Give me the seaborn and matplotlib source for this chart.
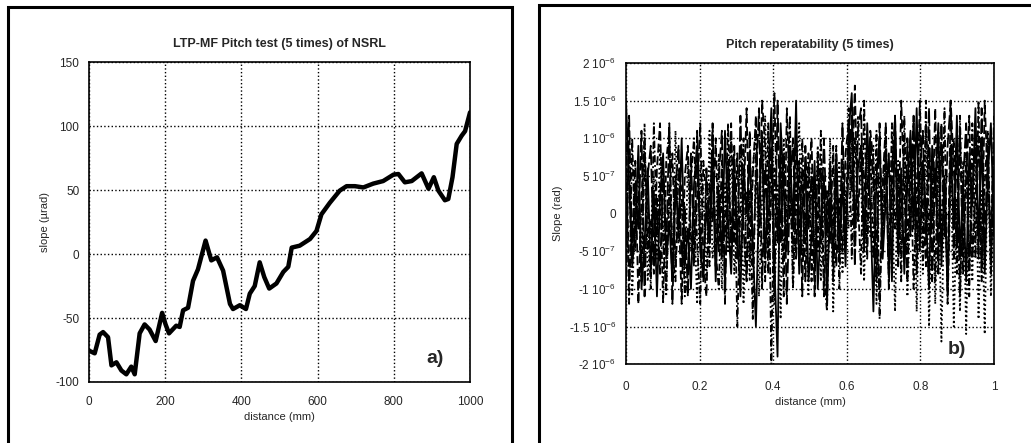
import numpy as np
import pandas as pd
import seaborn as sns
import matplotlib.pyplot as plt
from matplotlib.patches import Rectangle

# panel a) : LTP-MF pitch test, distance (mm) vs slope (urad)
dist_a = [0, 15, 28, 37, 50, 59, 72, 85, 98, 111, 120, 133, 146, 159, 175, 192,
          201, 210, 229, 238, 247, 260, 273, 286, 306, 321, 336, 352, 370, 378,
          396, 412, 422, 435, 448, 460, 473, 492, 510, 523, 532, 553, 580, 597,
          610, 632, 658, 676, 698, 720, 746, 772, 799, 812, 829, 847, 873, 891,
          905, 917, 934, 943, 954, 965, 978, 987, 1000]
slope_a = [-75.5, -77.6, -63, -61, -65, -87, -84.6, -91, -94, -88, -94, -62, -55,
           -59, -68, -46, -55, -62, -56, -57, -44, -42, -21, -12, 10.5, -5, -2.6,
           -13, -39, -43, -40, -43, -31, -25, -6.5, -18, -27, -23, -14, -10, 5,
           6.5, 11.7, 18, 31, 40, 49.5, 53, 53, 52, 55, 57, 62, 62.5, 56, 57, 63,
           51, 60, 49.5, 42, 43, 60, 86, 92.4, 96, 110.7]

# panel b) : pitch repeatability, 5 runs, slope in units of 1e-7 rad
run1 = [15, 4, -7, -2, 9, -10, -4, 6, -8, 3,
        -11, 2, 8, -6, -1, -9, 5, -3, 10, -7,
        -2, -10, 4, 9, -5, -8, 1, -4, 7, -9,
        3, -6, 11, -1, -8, 5, -3, -11, 6, 0,
        8, -4, -15, 2, 10, -6, 4, 14, -7, -19,
        12, 3, -5, 9, -2, 15, -8, 1, 6, -9,
        -3, 7, -10, -1, 5, -12, 2, -6, 8, -4,
        4, -7, 11, 16, -2, 6, 9, -4, 12, 1,
        -13, 5, 10, -6, 2, 8, -9, 13, -3, 6,
        -8, 4, 11, -2, 14, -5, 7, 0, -10, 9,
        3, 12, -7, 5, -11, 9, -2, 13, -6, 4,
        -9, 8, 1, 14, -4, 10, -8, 5, 12, -3]
run2 = [11, -9, -3, 7, -12, 2, 10, -5, -1, -8,
        6, 12, -4, -10, 3, 8, -7, 1, -12, 5,
        9, -3, -7, 2, 12, -6, -11, 4, -1, 10,
        -5, 7, -9, 2, 12, -4, 8, -7, 1, 14,
        -6, 5, 13, -3, 15, 9, -8, 3, 16, -4,
        7, -11, 14, 2, -5, 11, -3, 6, -9, 4,
        10, -8, 1, 6, -11, 3, -4, 9, -7, 2,
        -5, 8, 12, 3, 17, -1, 9, 5, -6, 11,
        7, -3, -11, 4, 12, -8, 2, 10, -5, 15,
        3, -9, 6, 12, -4, 15, 1, -7, 9, -2,
        14, -5, 8, 3, -9, 15, 6, -4, 11, -8,
        5, 13, -6, 2, 10, -7, 15, 4, -3, 11]
run3 = [-4, 8, -11, 1, 6, -7, 12, -9, -2, 5,
        -6, 9, -1, -11, 4, -8, 11, -4, 2, -10,
        7, -5, 1, -12, 6, 3, -9, 11, -6, -2,
        8, -10, 4, -5, 10, -8, -1, 9, -12, 3,
        -9, 6, 11, -11, 2, 13, -5, 8, -12, 4,
        -14, 10, -3, 7, -10, 5, 12, -6, 0, -11,
        6, -5, 9, -9, 3, -7, 10, -13, 1, 7,
        -8, 3, -2, 10, -6, 13, 4, -9, 8, -3,
        9, -12, 5, -4, 11, -9, 3, -13, 7, -6,
        10, -11, 2, 8, -13, 5, -8, 12, -15, 4,
        -12, 6, -17, 3, -10, 9, -15, 2, -13, 7,
        -16, 5, -9, 11, -14, 3, -16, 8, -11, 2]
run4 = [6, -12, 10, -5, 3, -9, 7, 1, -10, 12,
        -3, 4, -12, 7, 11, -5, -9, 6, 3, -11,
        -8, 5, 10, -4, -12, 7, 2, -7, 11, -5,
        -10, 4, -3, 12, -7, 6, -15, 1, 10, -8,
        3, -14, 8, -2, 11, -9, 12, -20, 6, -3,
        9, -6, 2, 13, -10, 4, -7, 10, -4, 8,
        -9, 4, -5, 11, -8, -13, 6, -2, 9, -10,
        7, -3, 14, -6, 10, 2, -8, 15, -4, 9,
        -6, 11, -14, 3, 9, -7, 12, -2, 6, -9,
        13, -5, 9, -10, 4, 12, -6, 15, -3, 7,
        -9, 11, -4, 14, -12, 5, 10, -8, 13, -5,
        8, -11, 12, -6, 15, -9, 4, 11, -7, 13]
run5 = [-9, 13, -6, 4, -2, 11, -11, 5, 9, -6,
        2, -8, 6, -5, 12, -12, 3, 9, -7, 1,
        -11, 8, -6, 11, -2, -9, 6, -3, 12, -7,
        5, 11, -12, 7, -4, 9, -6, 13, -2, -9,
        11, -7, 4, 14, -10, 6, -2, 9, -11, 15,
        -4, 8, -12, 3, 10, -6, 7, -11, 9, -2,
        5, -11, 8, -4, 10, -3, 7, -9, 4, -6,
        12, -4, 6, 13, -7, 11, 14, -5, 3, 10,
        4, -9, 12, -5, 8, -10, 6, 13, -7, 2,
        -6, 10, -3, 13, -8, 6, 11, -4, 14, -9,
        6, -8, 12, -3, 9, 15, -6, 10, -11, 4,
        12, -7, 3, 10, -6, 14, -4, 9, -8, 6]

yticks_b = [-20, -15, -10, -5, 0, 5, 10, 15, 20]
ylabels_b = ['-2 10$^{-6}$', '-1.5 10$^{-6}$', '-1 10$^{-6}$', '-5 10$^{-7}$', '0',
             '5 10$^{-7}$', '1 10$^{-6}$', '1.5 10$^{-6}$', '2 10$^{-6}$']

sns.set_style('white')
plt.rcParams['font.family'] = ['Liberation Sans', 'DejaVu Sans']
plt.rcParams['mathtext.default'] = 'regular'
plt.rcParams['axes.unicode_minus'] = False

fig = plt.figure(figsize=(10.31, 4.43), dpi=100)
ax1 = fig.add_axes([0.0863, 0.1377, 0.3696, 0.7223])
ax2 = fig.add_axes([0.6072, 0.178, 0.3569, 0.6798])

# panel frames of the scanned page
fig.patches.append(Rectangle((0.008, -0.1), 0.489, 1.084, transform=fig.transFigure,
                             fill=False, ec='black', lw=2.2))
fig.patches.append(Rectangle((0.523, -0.1), 0.6, 1.088, transform=fig.transFigure,
                             fill=False, ec='black', lw=2.2))

dfa = pd.DataFrame({'distance': dist_a, 'slope': slope_a})
sns.lineplot(data=dfa, x='distance', y='slope', ax=ax1, color='black', lw=3.2)
ax1.set_xlim(0, 1000)
ax1.set_ylim(-100, 150)
ax1.set_xticks([0, 200, 400, 600, 800, 1000])
ax1.set_yticks([-100, -50, 0, 50, 100, 150])
ax1.set_title('LTP-MF Pitch test (5 times) of NSRL', fontsize=9, fontweight='bold', pad=11)
ax1.set_xlabel('distance (mm)', fontsize=8, labelpad=3)
ax1.set_ylabel('slope (µrad)', fontsize=8, labelpad=4)
ax1.text(0.908, 0.075, 'a)', transform=ax1.transAxes, fontsize=14, fontweight='bold',
         ha='center', va='center')

runs = [run1, run2, run3, run4, run5]
n = len(run1)
xb = np.linspace(0, 1, n)
dfb = pd.concat([pd.DataFrame({'distance': xb, 'slope': r, 'run': f'run {i + 1}'})
                 for i, r in enumerate(runs)])
sns.lineplot(data=dfb, x='distance', y='slope', style='run', ax=ax2, color='black',
             lw=1.3, estimator=None, sort=False, legend=False,
             dashes=['', (5, 2), (1, 1.5), (4, 1.5, 1, 1.5), (8, 2)])
ax2.set_xlim(0, 1)
ax2.set_ylim(-20, 20)
ax2.set_xticks([0, 0.2, 0.4, 0.6, 0.8, 1])
ax2.set_xticklabels(['0', '0.2', '0.4', '0.6', '0.8', '1'])
ax2.set_yticks(yticks_b)
ax2.set_yticklabels(ylabels_b)
ax2.set_title('Pitch reperatability (5 times)', fontsize=9, fontweight='bold', pad=11)
ax2.set_xlabel('distance (mm)', fontsize=8, labelpad=3)
ax2.set_ylabel('Slope (rad)', fontsize=8, labelpad=4)
ax2.text(0.90, 0.05, 'b)', transform=ax2.transAxes, fontsize=14, fontweight='bold',
         ha='center', va='center')

for ax, xpad in [(ax1, 10), (ax2, 12)]:
    ax.grid(True, ls=':', color='black', lw=1.0)
    ax.tick_params(axis='x', length=0, pad=xpad, labelsize=8.5)
    ax.tick_params(axis='y', length=0, pad=7, labelsize=8.5)
    for s in ax.spines.values():
        s.set_color('black')
        s.set_linewidth(1.2)
        s.set_visible(True)

fig.savefig('out.png', dpi=100)
